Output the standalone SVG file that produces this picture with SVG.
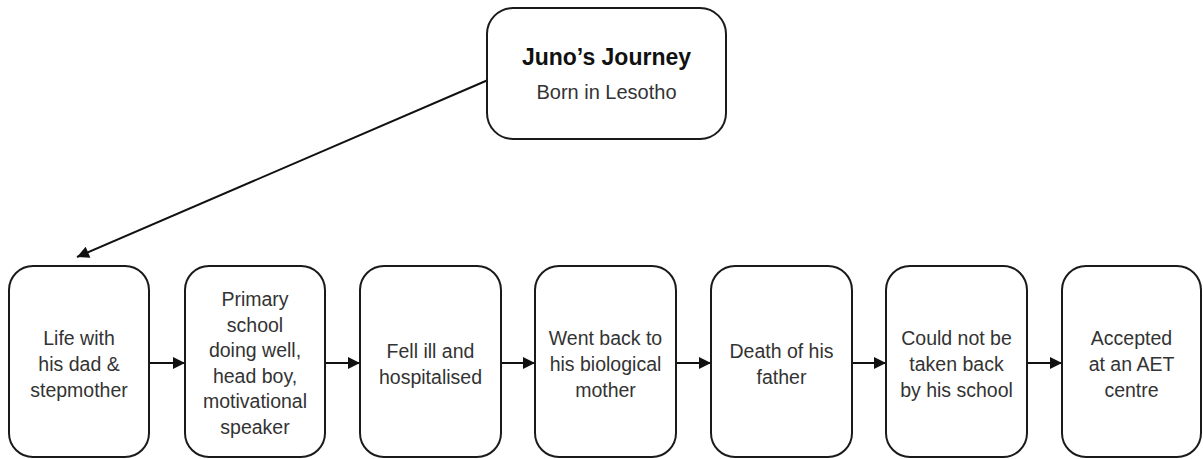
<svg xmlns="http://www.w3.org/2000/svg" width="1203" height="459" viewBox="0 0 1203 459">
<style>
.box{fill:#fff;stroke:#1a1a1a;stroke-width:2}
.t{font-family:"Liberation Sans",Arial,sans-serif;font-size:19.5px;fill:#333;text-anchor:middle}
.title{font-family:"Liberation Sans",Arial,sans-serif;font-size:23px;font-weight:bold;fill:#111;text-anchor:middle}
.conn{stroke:#111;stroke-width:2;fill:none}
</style>
<defs>
<marker id="ah" viewBox="0 0 10 10" refX="10" refY="5" markerWidth="14" markerHeight="12" markerUnits="userSpaceOnUse" orient="auto">
<path d="M0,0 L10,5 L0,10 z" fill="#111"/>
</marker>
</defs>
<g id="connectors">
<line class="conn" x1="488" y1="80" x2="77" y2="257" marker-end="url(#ah)"/>
<line class="conn" x1="149" y1="363" x2="185" y2="363" marker-end="url(#ah)"/>
<line class="conn" x1="325" y1="363" x2="360" y2="363" marker-end="url(#ah)"/>
<line class="conn" x1="501" y1="363" x2="535" y2="363" marker-end="url(#ah)"/>
<line class="conn" x1="676" y1="363" x2="711" y2="363" marker-end="url(#ah)"/>
<line class="conn" x1="852" y1="363" x2="886" y2="363" marker-end="url(#ah)"/>
<line class="conn" x1="1027" y1="363" x2="1062" y2="363" marker-end="url(#ah)"/>
</g>
<g id="top">
<rect class="box" x="487" y="8" width="239" height="131" rx="26"/>
<text class="title" x="606.5" y="65">Juno’s Journey</text>
<text class="t" x="606.5" y="99" style="font-size:20px">Born in Lesotho</text>
</g>
<g id="n1">
<rect class="box" x="9" y="266" width="140" height="191" rx="24"/>
<text class="t" x="79" y="345">Life with</text>
<text class="t" x="79" y="371">his dad &amp;</text>
<text class="t" x="79" y="397">stepmother</text>
</g>
<g id="n2">
<rect class="box" x="185" y="266" width="140" height="191" rx="24"/>
<text class="t" x="255" y="306">Primary</text>
<text class="t" x="255" y="331.5">school</text>
<text class="t" x="255" y="357">doing well,</text>
<text class="t" x="255" y="382.5">head boy,</text>
<text class="t" x="255" y="408">motivational</text>
<text class="t" x="255" y="433.5">speaker</text>
</g>
<g id="n3">
<rect class="box" x="360" y="266" width="141" height="191" rx="24"/>
<text class="t" x="430.5" y="358">Fell ill and</text>
<text class="t" x="430.5" y="383.5">hospitalised</text>
</g>
<g id="n4">
<rect class="box" x="535" y="266" width="141" height="191" rx="24"/>
<text class="t" x="605.5" y="345">Went back to</text>
<text class="t" x="605.5" y="371">his biological</text>
<text class="t" x="605.5" y="397">mother</text>
</g>
<g id="n5">
<rect class="box" x="711" y="266" width="141" height="191" rx="24"/>
<text class="t" x="781.5" y="358">Death of his</text>
<text class="t" x="781.5" y="383.5">father</text>
</g>
<g id="n6">
<rect class="box" x="886" y="266" width="141" height="191" rx="24"/>
<text class="t" x="956.5" y="345">Could not be</text>
<text class="t" x="956.5" y="371">taken back</text>
<text class="t" x="956.5" y="397">by his school</text>
</g>
<g id="n7">
<rect class="box" x="1062" y="266" width="139" height="191" rx="24"/>
<text class="t" x="1131.5" y="345">Accepted</text>
<text class="t" x="1131.5" y="371">at an AET</text>
<text class="t" x="1131.5" y="397">centre</text>
</g>
</svg>
